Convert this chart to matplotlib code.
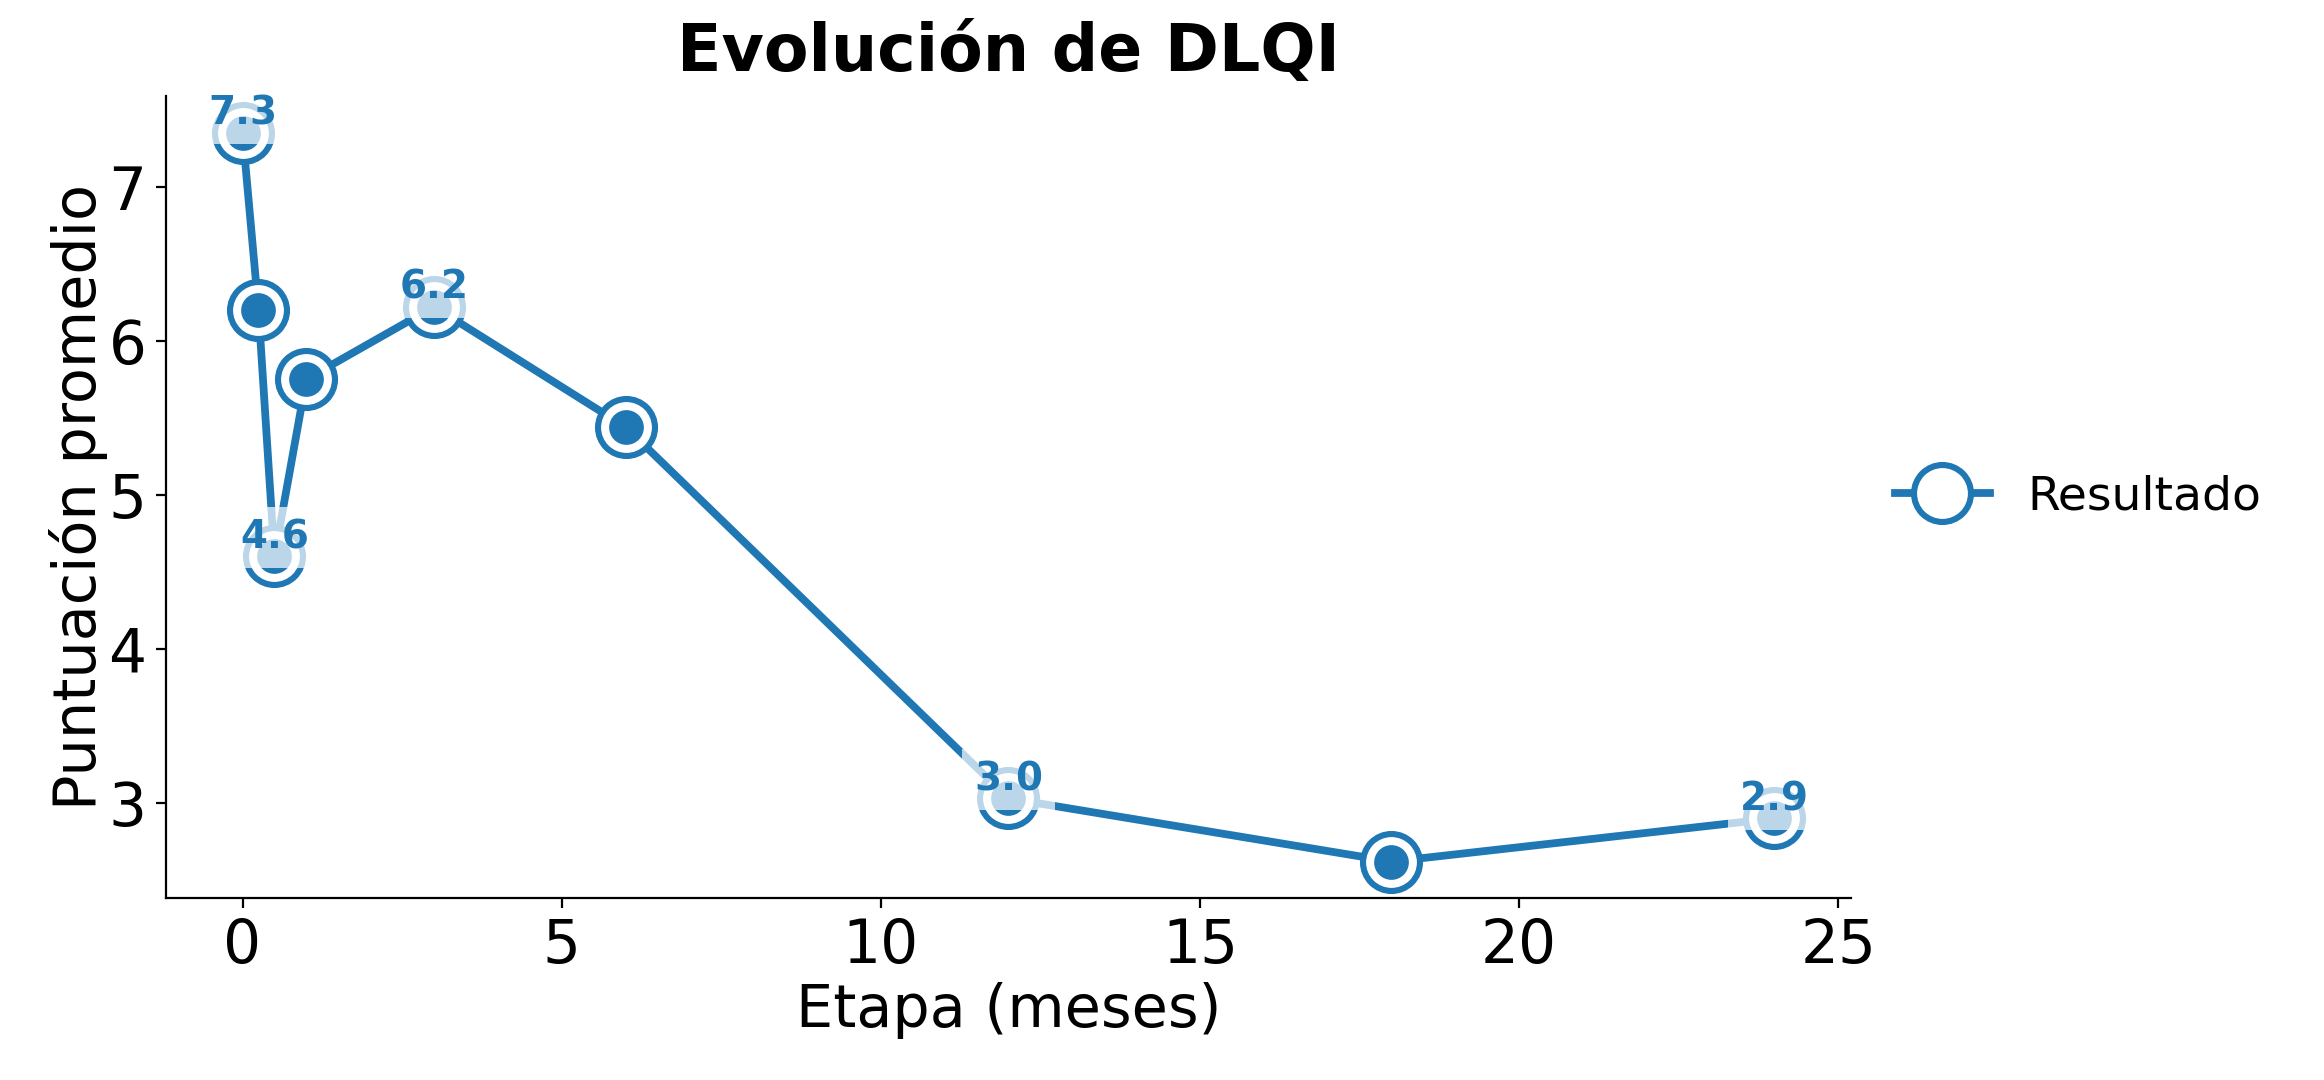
import matplotlib
matplotlib.use("Agg")
import matplotlib.pyplot as plt

# datos
etapas = [0, 0.25, 0.5, 1, 3, 6, 12, 18, 24]
puntuacion = [7.35, 6.2, 4.6, 5.75, 6.22, 5.44, 3.03, 2.62, 2.9]
etiquetas = ["7.3", "", "4.6", "", "6.2", "", "3.0", "", "2.9"]

color = "#1f77b4"

fig = plt.figure(figsize=(11.62, 5.4), dpi=200)
ax = fig.add_axes([0.0714, 0.1685, 0.7251, 0.7425])

ax.plot(etapas, puntuacion, color=color, lw=2.8, marker="o", ms=20.5,
        mfc="white", mec=color, mew=2.2, label="Resultado", zorder=2)
ax.plot(etapas, puntuacion, ls="none", marker="o", ms=11.5, color=color, zorder=3)

for x, y, t in zip(etapas, puntuacion, etiquetas):
    if t:
        ax.annotate(t, (x, y), ha="center", va="bottom", fontsize=14,
                    fontweight="bold", color=color, zorder=5,
                    bbox=dict(boxstyle="square,pad=0.3", fc="white",
                              ec="none", alpha=0.7))

ax.set_title("Evolución de DLQI", fontsize=23.4, fontweight="bold", pad=9)
ax.set_xlabel("Etapa (meses)", fontsize=21.2, labelpad=2)
ax.set_ylabel("Puntuación promedio", fontsize=21.2, labelpad=0)
ax.tick_params(labelsize=21.5)
ax.spines["top"].set_visible(False)
ax.spines["right"].set_visible(False)

ax.legend(loc="center left", bbox_to_anchor=(1.001, 0.5), frameon=False,
          fontsize=17)

fig.savefig("out.png", dpi=200)
